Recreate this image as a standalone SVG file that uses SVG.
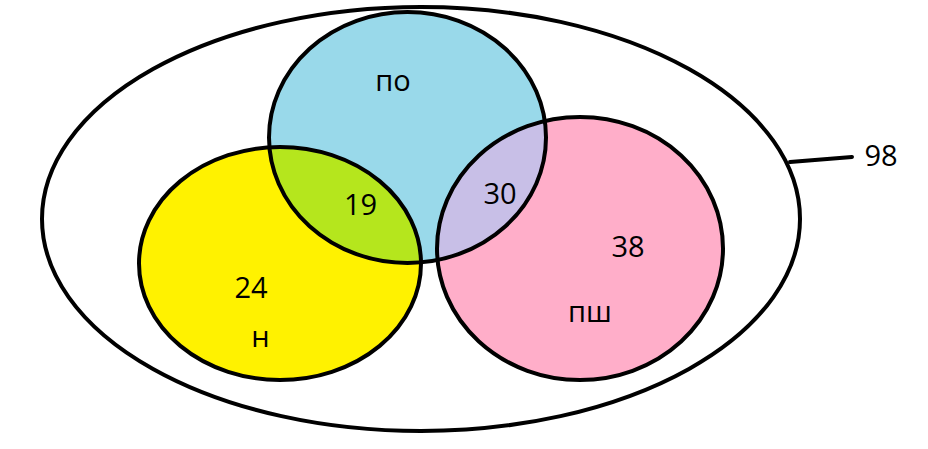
<svg xmlns="http://www.w3.org/2000/svg" width="928" height="449" viewBox="0 0 928 449">
<style>
.o{fill:none;stroke:#000;stroke-width:4}
.t{font-family:"Open Sans","DejaVu Sans",sans-serif;font-size:29px;fill:#000;text-anchor:middle}
</style>
<defs>
<clipPath id="cb"><ellipse cx="407.5" cy="137.5" rx="138.5" ry="125.5"/></clipPath>
</defs>
<rect width="928" height="449" fill="#fff"/>
<g id="universe">
<ellipse class="o" cx="421" cy="219" rx="379" ry="212" stroke-width="3.5"/>
<text class="t" x="881" y="166">98</text>
</g>
<g id="po">
<ellipse cx="407.5" cy="137.5" rx="138.5" ry="125.5" fill="#99D9EA"/>
<text class="t" x="393" y="91">по</text>
</g>
<g id="n">
<ellipse cx="280" cy="263.5" rx="141" ry="116.5" fill="#FFF200"/>
<ellipse cx="280" cy="263.5" rx="141" ry="116.5" fill="#B5E61D" clip-path="url(#cb)"/>
<text class="t" x="251" y="298">24</text>
<text class="t" x="260.5" y="347">н</text>
<text class="t" x="360.5" y="215">19</text>
</g>
<g id="psh">
<ellipse cx="580" cy="248.5" rx="143" ry="131.5" fill="#FFAEC9"/>
<ellipse cx="580" cy="248.5" rx="143" ry="131.5" fill="#C8BFE7" clip-path="url(#cb)"/>
<text class="t" x="628" y="257">38</text>
<text class="t" x="590" y="322">пш</text>
<text class="t" x="500" y="204">30</text>
</g>
<g id="outlines">
<ellipse class="o" cx="407.5" cy="137.5" rx="138.5" ry="125.5"/>
<ellipse class="o" cx="280" cy="263.5" rx="141" ry="116.5"/>
<ellipse class="o" cx="580" cy="248.5" rx="143" ry="131.5"/>
</g>
<g id="connectors">
<line x1="790" y1="162" x2="852" y2="157" stroke="#000" stroke-width="4" stroke-linecap="round"/>
</g>
</svg>
